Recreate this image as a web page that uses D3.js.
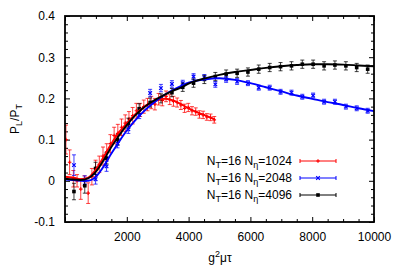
<!DOCTYPE html>
<html><head><meta charset="utf-8">
<script src="https://cdn.jsdelivr.net/npm/d3@7"></script>
<style>body{margin:0;background:#fff}svg{display:block}text{font-family:"Liberation Sans",Arial,sans-serif;}</style>
</head><body><svg id="c" width="399" height="279"></svg>
<script>
// smooth curves [tau, P_L/P_T]
const lineRed = [[0,0.01],[250,0.008],[500,0.004],[750,0.008],[1000,0.028],[1250,0.058],[1500,0.09],[1750,0.118],[2000,0.14],[2250,0.16],[2500,0.176],[2750,0.188],[3000,0.196],[3250,0.199],[3500,0.195],[3750,0.186],[4000,0.176],[4250,0.167],[4500,0.16],[4750,0.152],[4850,0.149]];
const lineBlue = [[0,0.003],[250,0.002],[500,0.0],[750,0.0],[1000,0.01],[1250,0.035],[1500,0.066],[1750,0.095],[2000,0.122],[2250,0.145],[2500,0.165],[2750,0.182],[3000,0.197],[3250,0.21],[3500,0.221],[3750,0.23],[4000,0.238],[4500,0.246],[5000,0.249],[5500,0.245],[6000,0.237],[6500,0.227],[7000,0.217],[7500,0.207],[8000,0.199],[8500,0.191],[9000,0.184],[9500,0.176],[10000,0.169]];
const lineBlack = [[0,0.005],[250,0.003],[500,0.002],[750,0.006],[1000,0.022],[1250,0.05],[1500,0.082],[1750,0.11],[2000,0.135],[2250,0.157],[2500,0.175],[2750,0.189],[3000,0.2],[3250,0.21],[3500,0.219],[3750,0.226],[4000,0.236],[4500,0.248],[5000,0.257],[5500,0.264],[6000,0.269],[6500,0.274],[7000,0.278],[7500,0.281],[8000,0.283],[8500,0.283],[9000,0.282],[9500,0.28],[10000,0.278]];
// error bar points [tau, value, error]
const ptsRed = [[30,0.10,0.035],[150,0.045,0.03],[270,0.005,0.02],[390,0.0,0.015],[510,-0.02,0.025],[630,0.0,0.012],[750,-0.03,0.025],[870,0.01,0.02],[990,0.03,0.02],[1110,0.04,0.02],[1230,0.06,0.022],[1350,0.07,0.02],[1470,0.09,0.022],[1590,0.11,0.02],[1710,0.115,0.022],[1830,0.13,0.02],[1950,0.14,0.02],[2070,0.15,0.018],[2190,0.158,0.02],[2310,0.17,0.018],[2430,0.172,0.016],[2550,0.18,0.016],[2670,0.185,0.015],[2790,0.19,0.015],[2910,0.186,0.014],[3030,0.198,0.014],[3150,0.195,0.013],[3270,0.205,0.013],[3390,0.197,0.012],[3510,0.193,0.012],[3630,0.19,0.011],[3750,0.184,0.011],[3870,0.176,0.01],[3990,0.178,0.01],[4110,0.17,0.01],[4230,0.168,0.009],[4350,0.161,0.009],[4470,0.16,0.009],[4590,0.155,0.008],[4710,0.154,0.008],[4830,0.148,0.008]];
const ptsBlue = [[290,0.038,0.025],[640,0.002,0.01],[990,0.004,0.012],[1345,0.035,0.012],[1700,0.09,0.01],[2050,0.125,0.01],[2400,0.16,0.009],[2755,0.213,0.009],[3105,0.225,0.009],[3460,0.235,0.008],[3810,0.237,0.007],[4160,0.253,0.007],[4510,0.251,0.007],[4865,0.234,0.007],[5215,0.246,0.007],[5570,0.241,0.007],[5920,0.237,0.006],[6270,0.226,0.006],[6625,0.226,0.006],[6975,0.216,0.006],[7330,0.214,0.006],[7680,0.204,0.006],[8030,0.207,0.006],[8385,0.192,0.006],[8735,0.192,0.006],[9090,0.18,0.006],[9440,0.176,0.006],[9795,0.17,0.006]];
const ptsBlack = [[290,-0.026,0.02],[640,-0.012,0.018],[990,0.03,0.015],[1345,0.055,0.014],[1700,0.1,0.013],[2050,0.14,0.012],[2400,0.175,0.012],[2755,0.19,0.011],[3105,0.2,0.011],[3460,0.214,0.01],[3810,0.227,0.01],[4160,0.237,0.01],[4510,0.246,0.01],[4865,0.253,0.01],[5215,0.259,0.01],[5570,0.261,0.01],[5920,0.264,0.01],[6270,0.271,0.01],[6625,0.275,0.01],[6975,0.277,0.01],[7330,0.279,0.01],[7680,0.283,0.01],[8030,0.283,0.01],[8385,0.279,0.01],[8735,0.281,0.01],[9090,0.279,0.01],[9440,0.275,0.01],[9795,0.271,0.01]];
const xMajor = [0,2000,4000,6000,8000,10000];
const xLabels = ["","2000","4000","6000","8000","10000"];
const yMajor = [-0.1,0,0.1,0.2,0.3,0.4];
const yLabels = ["-0.1","0","0.1","0.2","0.3","0.4"];
const legendNeta = ["1024","2048","4096"];
const colors = ["#ff0000","#0000ff","#000000"];
const markers = ["plus","cross","square"];

const svg = d3.select("#c");
const L=65,R=374,T=16,B=222;
const x = d3.scaleLinear().domain([0,10000]).range([L,R]);
const y = d3.scaleLinear().domain([-0.1,0.4]).range([B,T]);
const xMinor = d3.range(0,10001,500).filter(v=>!xMajor.includes(v));
const yMinor = d3.range(-0.1,0.4001,0.02).map(v=>+v.toFixed(2)).filter(v=>!yMajor.some(m=>Math.abs(m-v)<1e-6));

function styleAxis(g){g.select(".domain").remove();g.selectAll("line").attr("stroke","#000").attr("stroke-width",1);g.selectAll("text").attr("font-size",12).attr("fill","#000").style("font-family","'Liberation Sans',Arial,sans-serif");}
svg.append("g").attr("transform",`translate(0,${B})`).call(d3.axisBottom(x).tickValues(xMajor).tickFormat((d,i)=>xLabels[i]).tickSize(-5).tickPadding(10)).call(styleAxis);
svg.append("g").attr("transform",`translate(0,${B})`).call(d3.axisBottom(x).tickValues(xMinor).tickFormat("").tickSize(-3)).call(styleAxis);
svg.append("g").attr("transform",`translate(0,${T})`).call(d3.axisTop(x).tickValues(xMajor).tickFormat("").tickSize(-5)).call(styleAxis);
svg.append("g").attr("transform",`translate(0,${T})`).call(d3.axisTop(x).tickValues(xMinor).tickFormat("").tickSize(-3)).call(styleAxis);
svg.append("g").attr("transform",`translate(${L},0)`).call(d3.axisLeft(y).tickValues(yMajor).tickFormat((d,i)=>yLabels[i]).tickSize(-5).tickPadding(10)).call(styleAxis);
svg.append("g").attr("transform",`translate(${L},0)`).call(d3.axisLeft(y).tickValues(yMinor).tickFormat("").tickSize(-3)).call(styleAxis);
svg.append("g").attr("transform",`translate(${R},0)`).call(d3.axisRight(y).tickValues(yMajor).tickFormat("").tickSize(-5)).call(styleAxis);
svg.append("g").attr("transform",`translate(${R},0)`).call(d3.axisRight(y).tickValues(yMinor).tickFormat("").tickSize(-3)).call(styleAxis);

svg.append("clipPath").attr("id","clp").append("rect").attr("x",L).attr("y",T).attr("width",R-L).attr("height",B-T);
const plot = svg.append("g").attr("clip-path","url(#clp)");

function drawMarker(g,type,cx,cy,col,s){
  if(type==="plus"){g.append("path").attr("d",`M${cx-s},${cy}H${cx+s}M${cx},${cy-s}V${cy+s}`).attr("stroke",col).attr("stroke-width",1.2);}
  else if(type==="cross"){g.append("path").attr("d",`M${cx-s},${cy-s}L${cx+s},${cy+s}M${cx-s},${cy+s}L${cx+s},${cy-s}`).attr("stroke",col).attr("stroke-width",1.2);}
  else {g.append("rect").attr("x",cx-s).attr("y",cy-s).attr("width",2*s).attr("height",2*s).attr("fill",col);}
}
const line = d3.line().x(d=>x(d[0])).y(d=>y(d[1])).curve(d3.curveMonotoneX);
[ptsRed,ptsBlue,ptsBlack].forEach((pts,i)=>{
  const g = plot.append("g");
  pts.forEach(p=>{
    const cx=x(p[0]), y1=y(p[1]-p[2]), y2=y(p[1]+p[2]);
    g.append("path").attr("d",`M${cx},${y1}V${y2}M${cx-2},${y1}H${cx+2}M${cx-2},${y2}H${cx+2}`).attr("stroke",colors[i]).attr("stroke-width",1).attr("fill","none").attr("opacity",0.75);
    drawMarker(g,markers[i],cx,y(p[1]),colors[i],1.8);
  });
});
[lineRed,lineBlue,lineBlack].forEach((ln,i)=>{
  plot.append("path").datum(ln).attr("d",line).attr("fill","none").attr("stroke",colors[i]).attr("stroke-width",1.9);
});

svg.append("rect").attr("x",L).attr("y",T).attr("width",R-L).attr("height",B-T).attr("fill","none").attr("stroke","#000").attr("stroke-width",1.8);

// legend
const leg = svg.append("g");
legendNeta.forEach((n,i)=>{
  const yy = 161 + i*17;
  const t = leg.append("text").attr("x",292).attr("y",yy+4).attr("text-anchor","end").attr("font-size",12);
  t.append("tspan").text("N");
  t.append("tspan").attr("font-size",9).attr("dy",3).text("T");
  t.append("tspan").attr("dy",-3).text("=16 N");
  t.append("tspan").attr("font-size",9).attr("dy",3).text("η");
  t.append("tspan").attr("dy",-3).text("="+n);
  leg.append("path").attr("d",`M300,${yy}H336M300,${yy-2}V${yy+2}M336,${yy-2}V${yy+2}`).attr("stroke",colors[i]).attr("stroke-width",1);
  drawMarker(leg,markers[i],318,yy,colors[i],1.8);
});

// axis titles
const xt = svg.append("text").attr("x",220).attr("y",262).attr("text-anchor","middle").attr("font-size",12);
xt.append("tspan").text("g");
xt.append("tspan").attr("font-size",9).attr("dy",-5).text("2");
xt.append("tspan").attr("dy",5).text("μτ");
const yt = svg.append("text").attr("transform",`translate(19,119) rotate(-90)`).attr("text-anchor","middle").attr("font-size",12);
yt.append("tspan").text("P");
yt.append("tspan").attr("font-size",9).attr("dy",3).text("L");
yt.append("tspan").attr("dy",-3).text("/P");
yt.append("tspan").attr("font-size",9).attr("dy",3).text("T");
</script></body></html>
